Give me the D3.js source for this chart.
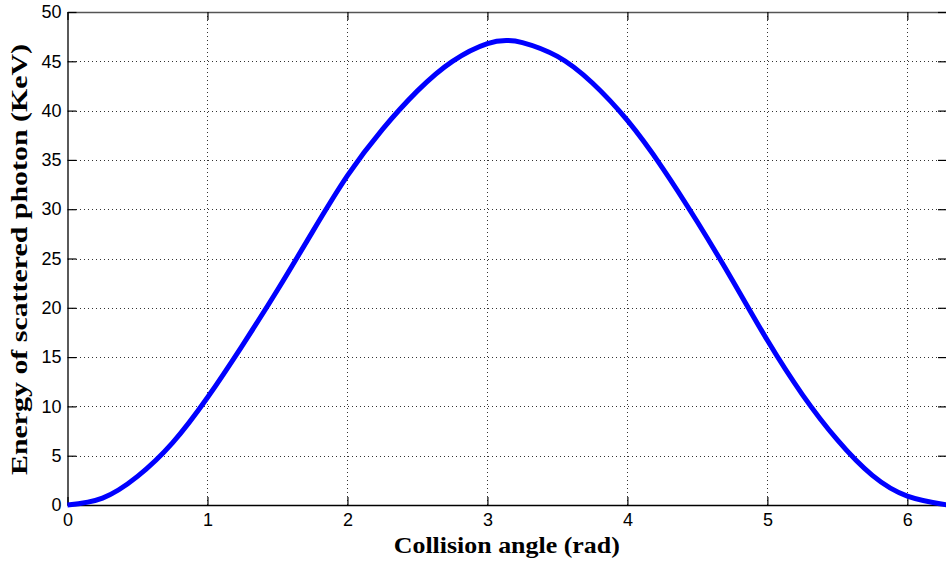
<!DOCTYPE html>
<html>
<head>
<meta charset="utf-8">
<script src="https://cdn.jsdelivr.net/npm/d3@7"></script>
<style>
  html, body { margin: 0; padding: 0; background: #fff; }
  svg { display: block; }
</style>
</head>
<body>
<svg id="chart" width="946" height="568"></svg>
<script>
// Data
const angles = [0, 0.25, 0.5, 0.75, 1.0, 1.25, 1.5, 1.75, 2.0, 2.25, 2.5, 2.75, 3.0, 3.14, 3.25, 3.5, 3.75, 4.0, 4.25, 4.5, 4.75, 5.0, 5.25, 5.5, 5.75, 6.0, 6.2832];
const energies = [0, 0.7, 2.9, 6.3, 10.9, 16.2, 21.8, 27.7, 33.4, 38.1, 42.0, 45.0, 46.8, 47.1, 46.9, 45.5, 42.8, 39.0, 34.2, 28.7, 22.8, 16.7, 11.2, 6.6, 3.0, 0.9, 0];
const xTicks = [0, 1, 2, 3, 4, 5, 6];
const yTicks = [0, 5, 10, 15, 20, 25, 30, 35, 40, 45, 50];
const xTitle = "Collision angle (rad)";
const yTitle = "Energy of scattered photon (KeV)";

const svg = d3.select("#chart");
const L = 67.5, R = 947, T = 12, B = 505;

const x = d3.scaleLinear().domain([0, 2 * Math.PI]).range([L, R]);
const y = d3.scaleLinear().domain([0, 50]).range([B, T]);

// grid
const grid = svg.append("g").attr("stroke", "#333").attr("stroke-width", 1).attr("stroke-dasharray", "1,3").attr("shape-rendering", "crispEdges");
xTicks.filter(d => d > 0).forEach(d => {
  grid.append("line").attr("x1", Math.round(x(d)) + 0.5).attr("x2", Math.round(x(d)) + 0.5).attr("y1", T).attr("y2", B);
});
yTicks.filter(d => d > 0 && d < 50).forEach(d => {
  grid.append("line").attr("y1", Math.round(y(d)) + 0.5).attr("y2", Math.round(y(d)) + 0.5).attr("x1", L).attr("x2", R);
});

// axes (MATLAB style, inward ticks)
const axB = d3.axisBottom(x).tickValues(xTicks).tickSizeInner(-8).tickSizeOuter(0).tickPadding(8).tickFormat(d3.format("d"));
const axT = d3.axisTop(x).tickValues(xTicks).tickSizeInner(-8).tickSizeOuter(0).tickFormat("");
const axL = d3.axisLeft(y).tickValues(yTicks).tickSizeInner(-9).tickSizeOuter(0).tickPadding(6).tickFormat(d3.format("d"));
const axR = d3.axisRight(y).tickValues(yTicks).tickSizeInner(-9).tickSizeOuter(0).tickFormat("");

function style(g) {
  g.selectAll("path").attr("stroke", "#000").attr("stroke-width", 1.3);
  g.selectAll("line").attr("stroke", "#000").attr("stroke-width", 1.2);
  g.selectAll("text").attr("font-family", "'Liberation Sans', Arial, sans-serif").attr("font-size", 18).attr("fill", "#000");
}
svg.append("g").attr("transform", `translate(0,${B})`).call(axB).call(style);
svg.append("g").attr("transform", `translate(0,${T})`).call(axT).call(style).selectAll("path").attr("stroke", "#555");
svg.append("g").attr("transform", `translate(${L},0)`).call(axL).call(style);
svg.append("g").attr("transform", `translate(${R},0)`).call(axR).call(style);

// curve
const pts = angles.map((a, i) => [a, energies[i]]);
svg.append("path")
  .datum(pts)
  .attr("fill", "none")
  .attr("stroke", "#0000ff")
  .attr("stroke-width", 5)
  .attr("stroke-linejoin", "round")
  .attr("d", d3.line().x(d => x(d[0])).y(d => y(d[1])).curve(d3.curveNatural));

// titles
svg.append("text")
  .attr("transform", `translate(${(L + 946) / 2},553) scale(1.08,1)`)
  .attr("text-anchor", "middle")
  .attr("font-family", "'Liberation Serif', 'Times New Roman', serif")
  .attr("font-weight", "bold").attr("font-size", 24)
  .text(xTitle);
svg.append("text")
  .attr("transform", `translate(27,${(T + B) / 2 + 1}) rotate(-90) scale(1.3,1)`)
  .attr("text-anchor", "middle")
  .attr("font-family", "'Liberation Serif', 'Times New Roman', serif")
  .attr("font-weight", "bold").attr("font-size", 23)
  .text(yTitle);
</script>
</body>
</html>
